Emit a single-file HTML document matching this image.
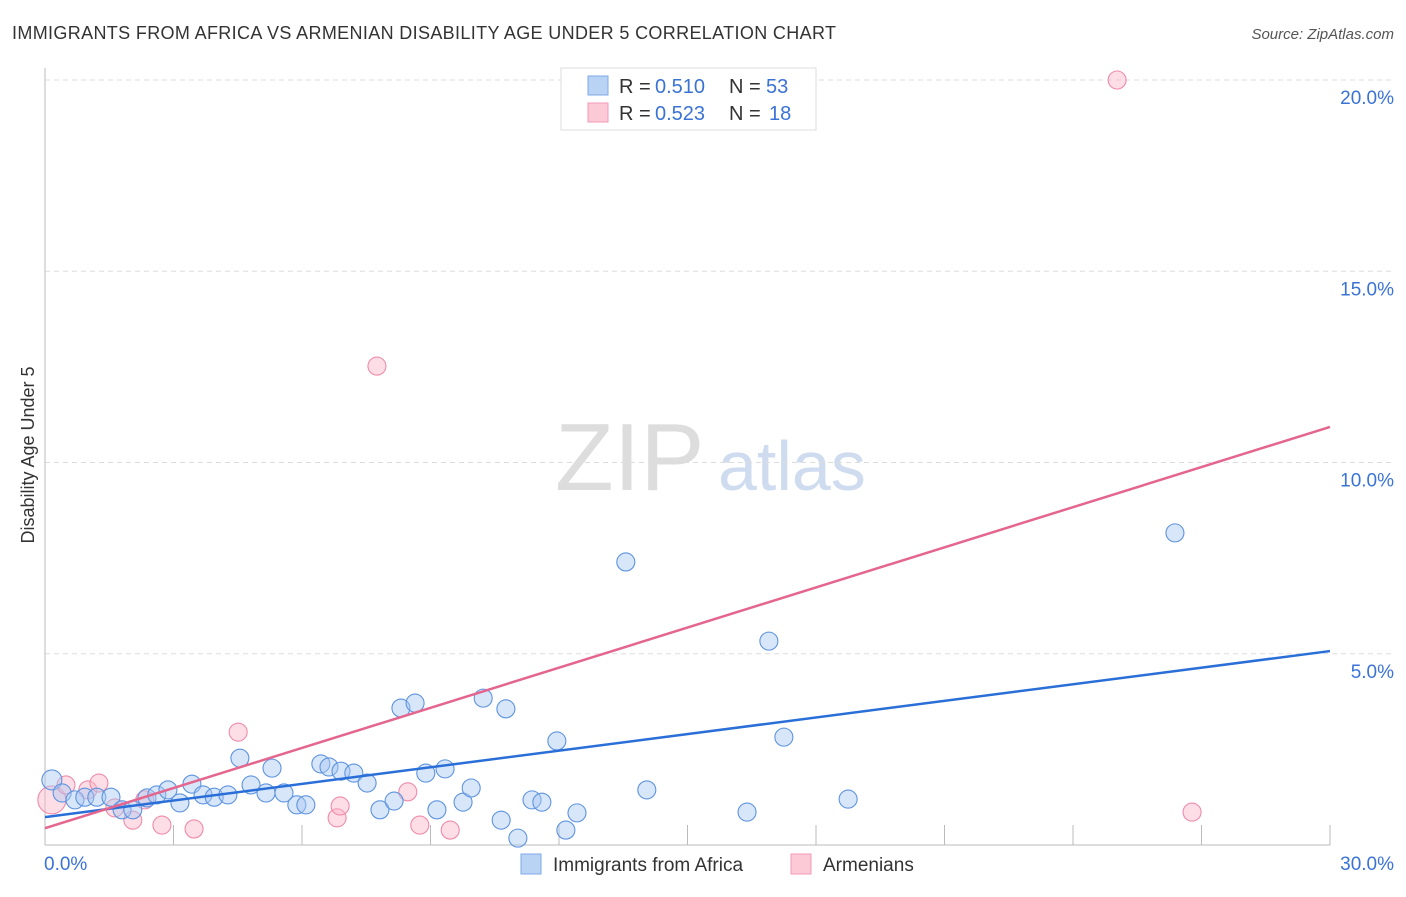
<!DOCTYPE html>
<html><head><meta charset="utf-8"><style>
body{margin:0;background:#fff;font-family:"Liberation Sans",sans-serif}
svg text{font-family:"Liberation Sans",sans-serif}
</style></head><body>
<svg id="chart" width="1406" height="892">
<text x="12" y="39" font-size="18" fill="#333" textLength="824">IMMIGRANTS FROM AFRICA VS ARMENIAN DISABILITY AGE UNDER 5 CORRELATION CHART</text>
<text x="1394" y="39" font-size="15" fill="#555" text-anchor="end" font-style="italic">Source: ZipAtlas.com</text>
<text x="555" y="490" font-size="96" fill="#ddd" font-family="Liberation Serif">ZIP</text>
<text x="718" y="490" font-size="70" fill="#cfdcf0">atlas</text>
<g id="grid"></g>
<g id="axes"></g>
<g id="marks"></g>
<text transform="translate(34,455) rotate(-90)" font-size="18" fill="#333" text-anchor="middle">Disability Age Under 5</text>
<text x="44" y="870" font-size="19" fill="#3a73d6">0.0%</text>
<text x="1394" y="870" font-size="19" fill="#3a73d6" text-anchor="end">30.0%</text>
<g>
<rect x="561" y="68" width="255" height="62" fill="#fff" stroke="#ddd"/>
<rect x="588" y="76" width="20" height="19" fill="#b9d3f5" stroke="#7fa9e6"/>
<rect x="588" y="103" width="20" height="19" fill="#fcc9d7" stroke="#f09ab4"/>
<text x="619" y="93" font-size="20" fill="#333">R =</text><text x="655" y="93" font-size="20" fill="#3a73d6">0.510</text>
<text x="729" y="93" font-size="20" fill="#333">N =</text><text x="766" y="93" font-size="20" fill="#3a73d6">53</text>
<text x="619" y="120" font-size="20" fill="#333">R =</text><text x="655" y="120" font-size="20" fill="#3a73d6">0.523</text>
<text x="729" y="120" font-size="20" fill="#333">N =</text><text x="769" y="120" font-size="20" fill="#3a73d6">18</text>
</g>
<g>
<rect x="521" y="854" width="20" height="20" fill="#b9d3f5" stroke="#7fa9e6"/>
<text x="553" y="871" font-size="19" fill="#333">Immigrants from Africa</text>
<rect x="791" y="854" width="20" height="20" fill="#fcc9d7" stroke="#f09ab4"/>
<text x="823" y="871" font-size="19" fill="#333">Armenians</text>
</g>
</svg>
<script>
const yTicks=[5,10,15,20];
const yTickLabels=["5.0%","10.0%","15.0%","20.0%"];
const xTicks=[3,6,9,12,15,18,21,24,27,30];
const africaX=[0.16,0.40,0.70,0.93,1.21,1.54,1.80,2.05,2.38,2.61,2.87,3.15,3.43,3.69,3.95,4.27,4.55,4.81,5.16,5.30,5.58,5.88,6.09,6.44,6.63,6.91,7.21,7.52,7.82,8.15,8.31,8.64,8.89,9.15,9.34,9.76,9.95,10.23,10.65,10.76,11.04,11.37,11.60,11.95,12.16,12.42,13.56,14.05,16.39,16.90,17.25,18.75,26.38];
const africaY=[1.70,1.36,1.18,1.25,1.25,1.25,0.92,0.92,1.23,1.31,1.44,1.10,1.59,1.31,1.25,1.31,2.27,1.57,1.36,2.01,1.36,1.05,1.05,2.12,2.04,1.93,1.88,1.62,0.92,1.15,3.58,3.71,1.88,0.92,1.99,1.12,1.49,3.84,0.65,3.56,0.18,1.18,1.12,2.72,0.39,0.84,7.40,1.44,0.86,5.33,2.82,1.20,8.16];
const armX=[0.16,0.49,1.00,1.26,1.63,2.05,2.33,2.73,3.48,4.51,6.82,6.89,7.75,8.47,8.75,9.46,25.03,26.78];
const armY=[1.18,1.57,1.44,1.62,0.97,0.65,1.18,0.52,0.42,2.95,0.71,1.02,12.52,1.39,0.52,0.39,20.0,0.86];
const africaTrend=[0.73,5.07];
const armTrend=[0.44,10.93];
const trendX=[0,30];
const X0=45,X1=1330,Y0=845,PPU=38.25;
const sx=v=>X0+v/30*(X1-X0);
const sy=v=>Y0-v*PPU;
const NS="http://www.w3.org/2000/svg";
function mk(t,a,p){const e=document.createElementNS(NS,t);for(const k in a)e.setAttribute(k,a[k]);p.appendChild(e);return e;}
const grid=document.getElementById('grid'),axes=document.getElementById('axes'),marks=document.getElementById('marks');
yTicks.forEach((v,i)=>{
 const l=mk('line',{x1:X0,x2:1394,y1:sy(v),y2:sy(v),stroke:'#ddd','stroke-dasharray':'5,4'},grid);
 
 
 const t=mk('text',{x:1394,y:sy(v)+24,'font-size':19,fill:'#3a73d6','text-anchor':'end'},grid);
 t.textContent=yTickLabels[i];
 
 
});
const la=mk('line',{x1:X0,x2:X0,y1:68,y2:Y0,stroke:'#bbb'},axes);


const ba=mk('line',{x1:X0,x2:X1,y1:Y0,y2:Y0,stroke:'#bbb'},axes);


xTicks.forEach(v=>{const t=mk('line',{x1:sx(v),x2:sx(v),y1:825,y2:Y0,stroke:'#bbb'},axes);
 
 });
function dots(xs,ys,fill,stroke,name){xs.forEach((x,i)=>{
 const r=(i===0&&name==='armenian-point')?14:(i===0?10:9);
 const c=mk('circle',{cx:sx(x),cy:sy(ys[i]),r:r,fill:fill,'fill-opacity':0.45,stroke:stroke,'stroke-width':1.1},marks);
 
 
});}
dots(armX,armY,'#fbb5c8','#f08aaa','armenian-point');
dots(africaX,africaY,'#a8c8f2','#5d93e0','africa-point');
const t1=mk('line',{x1:sx(trendX[0]),y1:sy(africaTrend[0]),x2:sx(trendX[1]),y2:sy(africaTrend[1]),stroke:'#2a6fd8','stroke-width':2.5},marks);


const t2=mk('line',{x1:sx(trendX[0]),y1:sy(armTrend[0]),x2:sx(trendX[1]),y2:sy(armTrend[1]),stroke:'#e4668e','stroke-width':2.5},marks);


</script>
</body></html>
